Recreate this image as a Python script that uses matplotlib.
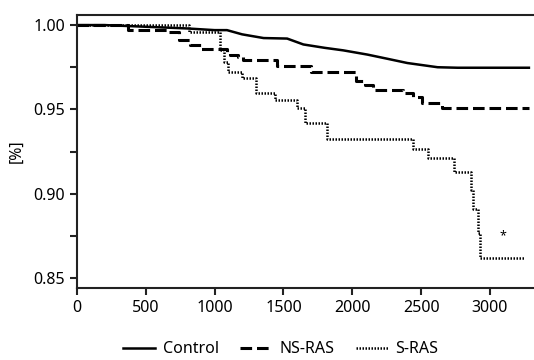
import numpy as np
import matplotlib
matplotlib.use("Agg")
import matplotlib.pyplot as plt

plt.rcParams['font.family'] = ['Noto Sans', 'DejaVu Sans']

# Control (large group, looks smooth)
ctrl_t = [0, 200, 500, 800, 1000, 1090, 1200, 1356, 1527, 1645, 1800, 1935, 2110, 2256, 2400, 2620, 2765, 3283]
ctrl_s = [1.0, 1.0, 0.999, 0.998, 0.997, 0.997, 0.9945, 0.9923, 0.992, 0.9885, 0.9865, 0.985, 0.9825, 0.980, 0.9775, 0.975, 0.9747, 0.9747]

# NS-RAS steps
ns_t = [0, 370, 660, 740, 820, 900, 1090, 1110, 1170, 1210, 1450, 1700, 2030, 2090, 2150, 2370, 2440, 2510, 2650, 3283]
ns_s = [1.0, 0.997, 0.9957, 0.991, 0.988, 0.9857, 0.984, 0.982, 0.981, 0.979, 0.976, 0.972, 0.967, 0.9645, 0.9615, 0.960, 0.9573, 0.954, 0.951, 0.951]

# S-RAS steps
s_t = [0, 815, 1041, 1070, 1100, 1200, 1300, 1441, 1601, 1660, 1820, 2439, 2548, 2737, 2861, 2876, 2912, 2927, 3254]
s_s = [1.0, 0.9957, 0.985, 0.978, 0.972, 0.9686, 0.9597, 0.9555, 0.951, 0.942, 0.9324, 0.9265, 0.921, 0.913, 0.902, 0.891, 0.8765, 0.862, 0.862]

star_x, star_y = 3094, 0.8753

fig = plt.figure(figsize=(5.34, 3.6), dpi=100)
ax = fig.add_axes([0.144, 0.2, 0.856, 0.758])

ax.plot(ctrl_t, ctrl_s, color='black', lw=1.8, label='Control')
ax.plot(ns_t, ns_s, color='black', lw=2.2, drawstyle='steps-post', dashes=(3.8, 1.6), label='NS-RAS')
ax.plot(s_t, s_s, color='black', lw=1.8, drawstyle='steps-post', dashes=(0.6, 0.6), label='S-RAS')
ax.text(star_x, star_y, '*', ha='center', va='center', fontsize=9, fontweight='bold')

ax.set_xlim(0, 3320)
ax.set_ylim(0.8441, 1.0059)
ax.set_xticks(np.arange(0, 3001, 500))
ax.set_yticks([0.85, 0.90, 0.95, 1.00])
ax.set_yticklabels(['0.85', '0.90', '0.95', '1.00'])
ax.set_yticks([0.875, 0.925, 0.975], minor=True)
ax.tick_params(axis='both', which='both', direction='out', length=5, width=1.5, labelsize=11.5, color='#222')
ax.set_ylabel('[%]', fontsize=11.5)
ax.yaxis.set_label_coords(-0.115, 0.5)

ax.spines['right'].set_visible(False)
for s in ['left', 'bottom', 'top']:
    ax.spines[s].set_linewidth(1.5)
    ax.spines[s].set_color('#222')

fig.legend(loc='center', bbox_to_anchor=(0.526, 0.03), ncol=3, frameon=False,
           fontsize=11.5, handlelength=2.0, columnspacing=1.3, handletextpad=0.5)

fig.savefig('out.png', dpi=100)
